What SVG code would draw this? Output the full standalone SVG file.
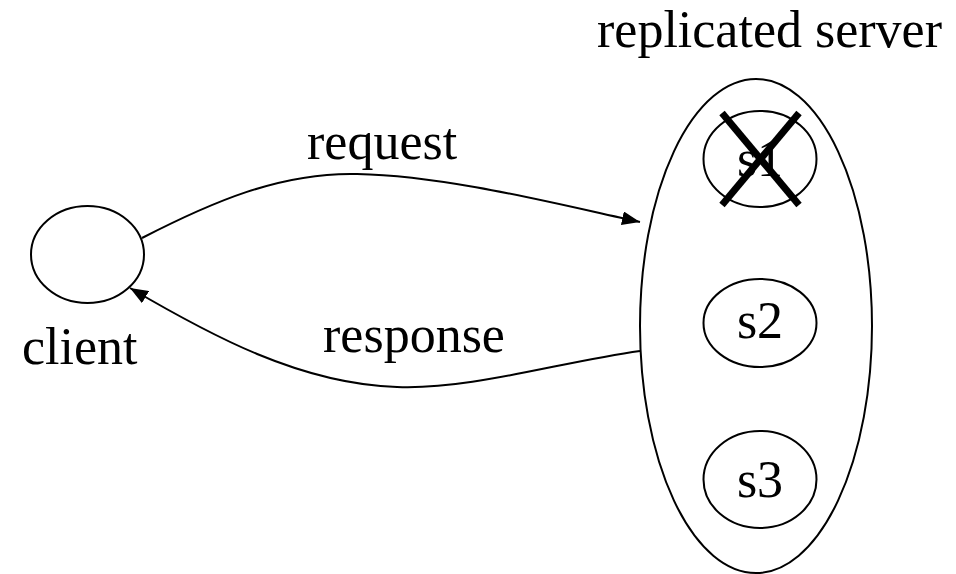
<svg xmlns="http://www.w3.org/2000/svg" width="956" height="574" viewBox="0 0 956 574">
  <defs>
    <marker id="arrow" markerUnits="userSpaceOnUse" markerWidth="18" markerHeight="14" refX="18" refY="7" orient="auto">
      <path d="M0,0 L18,7 L0,14 z" fill="#000"/>
    </marker>
  </defs>
  <style>
    .shape { fill: #fff; stroke: #000; stroke-width: 2; }
    .label { font-family: "Liberation Serif", "Times New Roman", serif; font-size: 52px; fill: #000; }
    .edge { fill: none; stroke: #000; stroke-width: 2; marker-end: url(#arrow); }
    .cross { stroke: #000; stroke-width: 7; }
  </style>
  <rect width="956" height="574" fill="#fff"/>

  <!-- client -->
  <g id="client">
    <ellipse class="shape" cx="87.5" cy="254.5" rx="56.5" ry="48.5"/>
    <text class="label" x="22" y="364">client</text>
  </g>

  <!-- replicated server group -->
  <g id="server">
    <ellipse class="shape" cx="756" cy="326" rx="116" ry="247"/>
    <text class="label" x="597" y="47">replicated server</text>
  </g>

  <g id="s1">
    <ellipse class="shape" cx="760" cy="159" rx="56.5" ry="48"/>
    <text class="label" x="760" y="176" text-anchor="middle">s1</text>
    <line class="cross" x1="722" y1="113" x2="799" y2="205"/>
    <line class="cross" x1="799" y1="113" x2="722" y2="205"/>
  </g>

  <g id="s2">
    <ellipse class="shape" cx="760" cy="323" rx="56.5" ry="44"/>
    <text class="label" x="760" y="338" text-anchor="middle">s2</text>
  </g>

  <g id="s3">
    <ellipse class="shape" cx="760" cy="479.5" rx="56.5" ry="48.5"/>
    <text class="label" x="760" y="497" text-anchor="middle">s3</text>
  </g>

  <!-- connectors -->
  <g id="connectors">
    <path class="edge" d="M142,238 C210,203 280,172 357,174 C450,176 560,205 640,222"/>
    <text class="label" x="307" y="159">request</text>
    <path class="edge" d="M640,351 C560,362 470,390 397,387 C300,384 210,335 130,288"/>
    <text class="label" x="323" y="352">response</text>
  </g>
</svg>
